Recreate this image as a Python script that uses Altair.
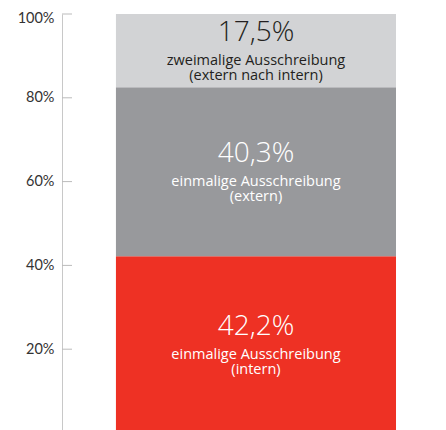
import altair as alt
import pandas as pd

# ---- data ----
segments = ["einmalige Ausschreibung (intern)",
            "einmalige Ausschreibung (extern)",
            "zweimalige Ausschreibung (extern nach intern)"]
line1 = ["einmalige Ausschreibung", "einmalige Ausschreibung", "zweimalige Ausschreibung"]
line2 = ["(intern)", "(extern)", "(extern nach intern)"]
values = [42.2, 40.3, 17.5]
stack_order = [1, 2, 3]
tick_values = [20, 40, 60, 80, 100]

# ---- styles ----
fill_colors = ["#ee3124", "#98999c", "#d2d3d5"]
text_colors = ["#ffffff", "#ffffff", "#231f20"]

df = pd.DataFrame({
    "group": ["Ausschreibung"] * 3,
    "segment": segments,
    "value": values,
    "order": stack_order,
    "pct": [f"{v:.1f}".replace(".", ",") + "%" for v in values],
    "sub": [a + "\n" + b for a, b in zip(line1, line2)],
})
ticks_df = pd.DataFrame({"t": tick_values})

yscale = alt.Scale(domain=[0, 100], nice=False, zero=True)
xscale = alt.Scale(paddingOuter=0.107, paddingInner=0, align=0.9)

base = alt.Chart(df).transform_stack(
    stack="value", groupby=["group"], as_=["y0", "y1"],
    sort=[alt.SortField("order", order="ascending")]
).transform_calculate(mid="(datum.y0 + datum.y1) / 2")

bars = base.mark_bar().encode(
    x=alt.X("group:N", axis=None, scale=xscale),
    y=alt.Y("y0:Q", scale=yscale, title=None,
            axis=alt.Axis(values=tick_values, labelExpr="datum.value + '%'",
                          grid=False, ticks=False, labelPadding=8,
                          labelFlush=True, labelFlushOffset=3,
                          domainColor="#c8c8c8", domainWidth=1,
                          labelFont="Lato", labelFontSize=14.5, labelColor="#333333")),
    y2="y1:Q",
    color=alt.Color("segment:N", scale=alt.Scale(domain=segments, range=fill_colors), legend=None),
)

big = base.mark_text(font="Open Sans", fontSize=28, fontWeight=300,
                     baseline="alphabetic", align="center", dy=-9.5).encode(
    x=alt.X("group:N", axis=None, scale=xscale),
    y=alt.Y("mid:Q", scale=yscale),
    text="pct:N",
    color=alt.Color("segment:N", scale=alt.Scale(domain=segments, range=text_colors), legend=None),
)

sub = base.mark_text(font="Open Sans", fontSize=14.5, lineBreak="\n", lineHeight=15,
                     baseline="alphabetic", align="center", dy=14).encode(
    x=alt.X("group:N", axis=None, scale=xscale),
    y=alt.Y("mid:Q", scale=yscale),
    text="sub:N",
    color=alt.Color("segment:N", scale=alt.Scale(domain=segments, range=text_colors), legend=None),
)

tick_rules = alt.Chart(ticks_df).mark_rule(color="#bbbbbb", strokeWidth=1).encode(
    y=alt.Y("t:Q", scale=yscale),
    x=alt.value(0),
    x2=alt.value(10),
)

chart = alt.layer(bars, tick_rules, big, sub).resolve_scale(color="independent").properties(
    width=340, height=419,
    autosize=alt.AutoSizeParams(type="none"),
    padding={"left": 54, "top": 6, "right": 0, "bottom": 0},
).configure_view(stroke=None)

chart.save("out.html", embed_options={"renderer": "svg", "actions": False})
